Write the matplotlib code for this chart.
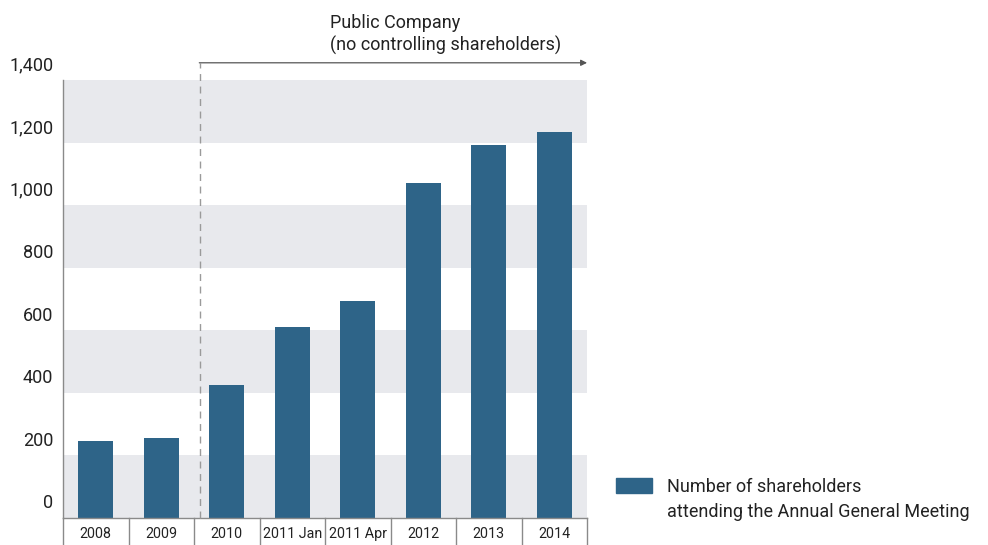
import matplotlib.pyplot as plt
from matplotlib.transforms import ScaledTranslation

plt.rcParams['font.family'] = ['Roboto', 'DejaVu Sans']

# Shareholders attending the AGM
categories = ['2008', '2009', '2010', '2011 Jan', '2011 Apr', '2012', '2013', '2014']
attendees = [247, 257, 425, 610, 695, 1070, 1193, 1233]
yticks = [0, 200, 400, 600, 800, 1000, 1200, 1400]
ytick_labels = ['0', '200', '400', '600', '800', '1,000', '1,200', '1,400']

bar_color = '#2e6488'
band_color = '#e8e9ed'
text_color = '#222222'
line_color = '#8a8a8a'

fig = plt.figure(figsize=(9.88, 5.45), dpi=100)
ax = fig.add_axes([0.0638, 0.0495, 0.5304, 0.8037])

n = len(categories)
ax.set_xlim(-0.5, n - 0.5)
ax.set_ylim(0, 1400)

# alternating horizontal bands
for lo in range(0, 1400, 400):
    ax.axhspan(lo, lo + 200, color=band_color, lw=0, zorder=0)

x = range(n)
ax.bar(x, attendees, width=0.53, color=bar_color, zorder=2)

for s in ['top', 'right']:
    ax.spines[s].set_visible(False)
ax.spines['left'].set_color(line_color)
ax.spines['bottom'].set_color(line_color)
ax.spines['left'].set_linewidth(1.0)
ax.spines['bottom'].set_linewidth(1.0)

ax.set_yticks(yticks)
ax.set_yticklabels(ytick_labels, fontsize=13, color=text_color)
ax.tick_params(axis='y', length=0, pad=7)
offset = ScaledTranslation(0, 4 / 72, fig.dpi_scale_trans)
for lbl in ax.get_yticklabels():
    lbl.set_va('bottom')
    lbl.set_transform(lbl.get_transform() + offset)

# category labels in boxes under the axis
ax.set_xticks([])
for i, name in enumerate(categories):
    ax.text(i, -0.037, name, transform=ax.get_xaxis_transform(), ha='center', va='center',
            fontsize=10.3, color=text_color, clip_on=False)
for b in range(n + 1):
    ax.plot([b - 0.5, b - 0.5], [0, -0.07], transform=ax.get_xaxis_transform(),
            color=line_color, lw=1.0, clip_on=False)

# public company period marker
split = 1.59
top_y = 1455
ax.plot([split, split], [0, top_y], color='#9a9a9a', lw=1.0, ls=(0, (5, 4)),
        clip_on=False, zorder=3)
ax.annotate('', xy=(n - 0.5, top_y), xytext=(split - 0.01, top_y),
            arrowprops=dict(arrowstyle='-|>', color='#555555', lw=0.9,
                            mutation_scale=9, shrinkA=0, shrinkB=0),
            annotation_clip=False)
ax.text(3.58, 1582, 'Public Company', fontsize=13, color=text_color,
        ha='left', va='center', clip_on=False)
ax.text(3.58, 1510, '(no controlling shareholders)', fontsize=13, color=text_color,
        ha='left', va='center', clip_on=False)

# legend
fig.patches.append(plt.Rectangle((616 / 988, 1 - 493 / 545), 36 / 988, 15 / 545,
                                 transform=fig.transFigure, color=bar_color))
fig.text(667 / 988, 1 - 487 / 545, 'Number of shareholders', fontsize=13,
         color=text_color, ha='left', va='center')
fig.text(667 / 988, 1 - 512 / 545, 'attending the Annual General Meeting', fontsize=13,
         color=text_color, ha='left', va='center')

fig.savefig('out.png', dpi=100)
